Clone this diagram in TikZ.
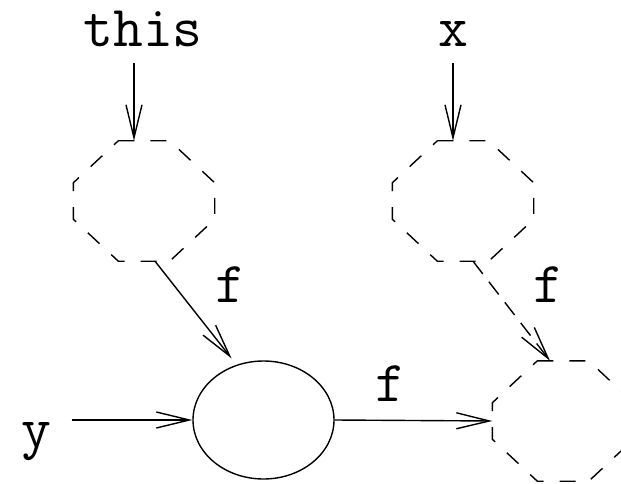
\documentclass[tikz,border=0pt]{standalone}
\usetikzlibrary{arrows.meta,shapes.geometric}

\begin{document}
\begin{tikzpicture}[x=1pt, y=1pt, line width=1.4pt,
    arr/.style={-{Straight Barb[length=33pt, width=16pt]}},
    lbl/.style={font=\fontsize{58}{60}\selectfont\ttfamily, anchor=base, inner sep=0pt},
    octbox/.style={rectangle, minimum width=140pt, minimum height=119pt, inner sep=0pt},
    octline/.style={dash pattern=on 16pt off 16pt}]
    \useasboundingbox (0,0) rectangle (621,-484);

    % inputs
    \node[lbl] (thisin) at (143,-47) {this};
    \node[lbl] (xin) at (453,-47) {x};
    \node[lbl] (yin) at (36,-447) {y};

    % dashed octagons and the ellipse
    \node[octbox] (octthis) at (144,-201) {};
    \node[octbox] (octx) at (463,-201) {};
    \node[octbox] (octout) at (563,-421) {};
    \foreach \o in {octthis,octx,octout}
        \draw[octline] ([xshift=45pt]\o.north west) -- ([xshift=-45pt]\o.north east)
            -- ([yshift=-42pt]\o.north east) -- ([yshift=42pt]\o.south east)
            -- ([xshift=-45pt]\o.south east) -- ([xshift=45pt]\o.south west)
            -- ([yshift=42pt]\o.south west) -- ([yshift=-42pt]\o.north west) -- cycle;
    \node[ellipse, draw, minimum width=141pt, minimum height=118pt, inner sep=0pt] (ell) at (263.5,-420) {};

    % arrows from the inputs
    \draw[arr] ([xshift=-10pt]octthis.north |- 0,-63) -- ([xshift=-10pt]octthis.north);
    \draw[arr] ([xshift=-10pt]octx.north |- 0,-63) -- ([xshift=-10pt]octx.north);
    \draw[arr] (yin.east |- ell.west) ++(20pt,0) -- (ell.west);

    % the f edges
    \draw[arr, shorten >=8pt] ([xshift=11pt]octthis.south) -- (ell.116);
    \draw[arr, dash pattern=on 16pt off 10pt] ([xshift=10pt]octx.south) -- ([xshift=-13pt]octout.north);
    \draw[arr] (ell.east) -- (octout.west);

    \node[lbl] (f1) at (230,-302) {f};
    \node[lbl] (f2) at (548,-302) {f};
    \node[lbl] (f3) at (390,-401) {f};
\end{tikzpicture}
\end{document}
